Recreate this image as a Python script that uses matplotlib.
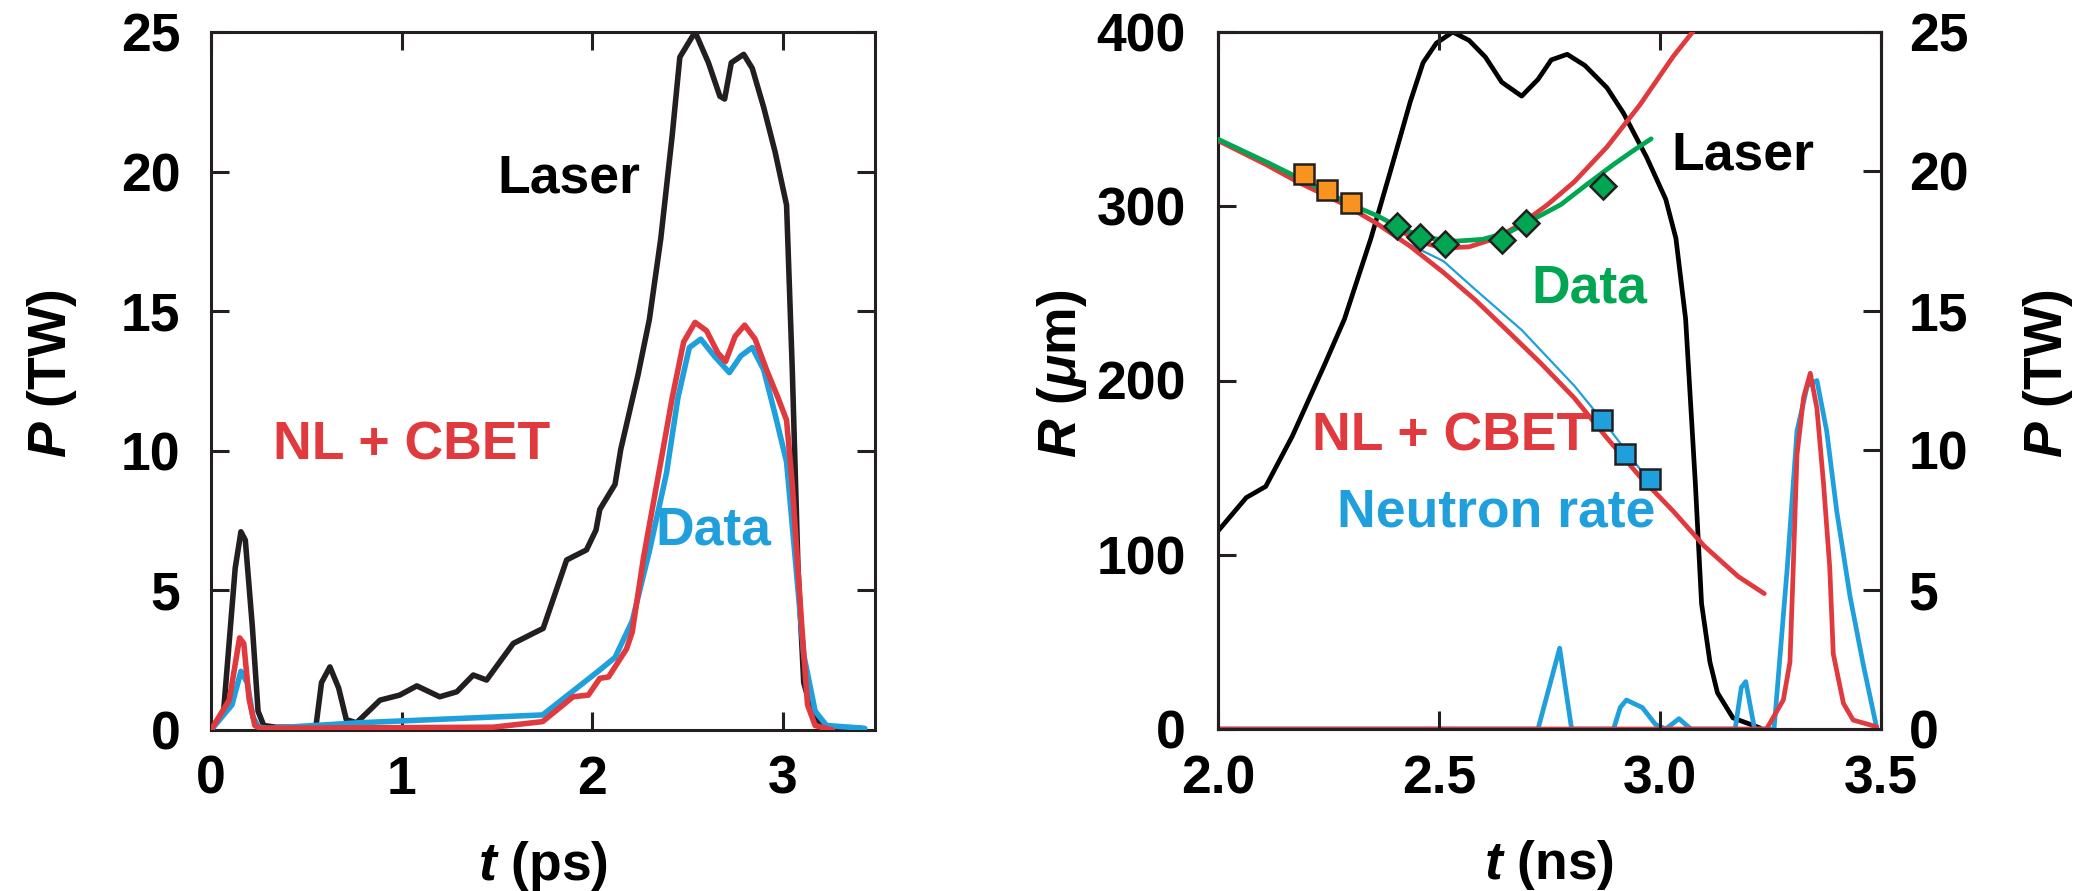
import matplotlib
matplotlib.use("Agg")
import matplotlib.pyplot as plt
import numpy as np

# ---------- data: left panel (t in ps, P in TW) ----------
laser_t = [0.0, 0.066, 0.127, 0.157, 0.18, 0.217, 0.247, 0.277, 0.34, 0.55, 0.58, 0.624, 0.67, 0.71,
           0.764, 0.887, 0.99, 1.08, 1.20, 1.29, 1.376, 1.446, 1.586, 1.69, 1.743, 1.866, 1.97, 2.02,
           2.04, 2.12, 2.15, 2.24, 2.30, 2.36, 2.42, 2.46, 2.54, 2.61, 2.67, 2.695, 2.73, 2.795, 2.84,
           2.90, 2.96, 3.02, 3.05, 3.08, 3.11, 3.16, 3.23, 3.41]
laser_p = [0.0, 0.67, 5.8, 7.1, 6.8, 3.7, 0.67, 0.16, 0.1, 0.1, 1.7, 2.26, 1.5, 0.37,
           0.26, 1.07, 1.25, 1.58, 1.19, 1.37, 1.97, 1.79, 3.1, 3.46, 3.64, 6.09, 6.45, 7.16,
           7.9, 8.8, 10.05, 12.7, 14.7, 17.6, 21.3, 24.1, 25.0, 23.9, 22.7, 22.6, 23.9, 24.2, 23.7,
           22.3, 20.7, 18.8, 12.9, 5.8, 1.7, 0.47, 0.1, 0.06]

cbet_t = [0.0, 0.096, 0.15, 0.172, 0.20, 0.23, 0.26, 1.48, 1.74, 1.90, 1.98, 2.04, 2.086, 2.18,
          2.21, 2.27, 2.36, 2.42, 2.48, 2.54, 2.60, 2.66, 2.70, 2.75, 2.80, 2.855, 2.915, 2.975,
          3.02, 3.05, 3.10, 3.13, 3.17, 3.26]
cbet_p = [0.0, 1.08, 3.3, 3.1, 1.1, 0.16, 0.06, 0.1, 0.3, 1.19, 1.25, 1.85, 1.9, 2.9,
          3.5, 6.2, 9.6, 11.9, 13.9, 14.6, 14.3, 13.5, 13.2, 14.1, 14.5, 14.0, 12.9, 11.9,
          11.1, 8.8, 3.7, 0.9, 0.16, 0.0]

data_t = [0.0, 0.11, 0.157, 0.19, 0.22, 0.25, 0.30, 0.78, 1.74, 2.04, 2.12, 2.21, 2.30, 2.39,
          2.45, 2.51, 2.57, 2.64, 2.72, 2.78, 2.84, 2.90, 2.96, 3.02, 3.07, 3.11, 3.17, 3.23,
          3.43]
data_p = [0.0, 0.9, 2.1, 1.7, 0.47, 0.1, 0.06, 0.26, 0.54, 2.15, 2.6, 3.9, 6.4, 9.2,
          11.9, 13.7, 14.0, 13.4, 12.8, 13.4, 13.7, 12.9, 11.3, 9.6, 5.8, 2.7, 0.67, 0.16,
          0.06]

# ---------- data: right panel (t in ns) ----------
laser2_t = [2.0, 2.064, 2.108, 2.168, 2.242, 2.286, 2.346, 2.39, 2.435, 2.464, 2.494, 2.531,
            2.568, 2.605, 2.642, 2.687, 2.724, 2.754, 2.79, 2.83, 2.88, 2.917, 2.97, 3.013,
            3.036, 3.058, 3.08, 3.094, 3.113, 3.13, 3.165, 3.226]
laser2_p = [7.1, 8.3, 8.7, 10.5, 13.1, 14.7, 17.6, 20.0, 22.5, 23.9, 24.6, 25.0,
            24.7, 24.1, 23.2, 22.7, 23.3, 24.0, 24.2, 23.8, 23.0, 22.1, 20.5, 19.0,
            17.6, 14.7, 8.8, 4.5, 2.4, 1.3, 0.4, 0.04]

# simulated neutron rate (NL + CBET), arbitrary units on the P scale
nsim_t = [2.0, 3.241, 3.279, 3.294, 3.30, 3.31, 3.325, 3.34, 3.355, 3.37, 3.384, 3.392, 3.415,
          3.437, 3.49]
nsim_p = [0.0, 0.0, 1.04, 2.4, 5.1, 9.85, 11.9, 12.76, 11.5, 8.8, 5.8, 2.7, 0.92,
          0.32, 0.08]

# measured neutron rate
ndat_t = [2.0, 2.724, 2.773, 2.80, 2.895, 2.91, 2.924, 2.96, 2.99, 3.013, 3.043, 3.058, 3.07,
          3.17, 3.184, 3.194, 3.206, 3.214, 3.258, 3.288, 3.31, 3.333, 3.355, 3.377, 3.40,
          3.43, 3.46, 3.49]
ndat_p = [0.0, 0.0, 2.9, 0.0, 0.0, 0.77, 1.04, 0.77, 0.16, 0.0, 0.37, 0.16, 0.0,
          0.0, 1.49, 1.7, 0.67, 0.0, 0.0, 5.8, 10.7, 12.3, 12.5, 10.7, 7.8,
          4.75, 2.3, 0.06]

# simulated shell radius (NL + CBET), lower branch
rsim_t = [2.0, 2.108, 2.18, 2.286, 2.36, 2.435, 2.51, 2.583, 2.657, 2.73, 2.806, 2.88, 2.954,
          3.03, 3.10, 3.177, 3.236]
rsim_r = [337.7, 324, 314, 301, 290, 277, 262, 246, 228, 210, 190, 167, 145,
          125, 105, 87.5, 77.7]

# simulated radius, upper branch
rup_t = [2.42, 2.45, 2.51, 2.568, 2.628, 2.687, 2.746, 2.806, 2.88, 2.954, 3.03, 3.08]
rup_r = [285, 280, 276, 276.7, 281.6, 290, 301, 314, 334, 358, 386, 402]

# thin blue radius line
rblu_t = [2.405, 2.51, 2.583, 2.687, 2.806, 2.88, 2.954, 2.99]
rblu_r = [281.6, 268.5, 252, 229, 197, 174, 149.4, 138]

# fit through the data
rfit_t = [2.0, 2.108, 2.212, 2.30, 2.36, 2.42, 2.48, 2.54, 2.598, 2.657, 2.717, 2.776, 2.835,
          2.895, 2.94, 2.98]
rfit_r = [338.5, 325.6, 312.6, 301, 294.6, 286.5, 281.6, 280, 281, 284.9, 293, 301, 312.6,
          324, 332, 338.7]

orange_t = [2.194, 2.246, 2.30]
orange_r = [318.5, 309.3, 301.8]
green_t = [2.405, 2.457, 2.513, 2.642, 2.697, 2.872]
green_r = [288.8, 282.3, 278.3, 280.6, 290.4, 311.6]
blue_t = [2.869, 2.921, 2.978]
blue_r = [177.2, 157.6, 143.6]

# ---------- style ----------
BLACK = "#231f20"
RED = "#e0393e"
BLUE = "#1f9fdb"
GREEN = "#00a651"
ORANGE = "#f7931e"
FS = 38.5
LW = 4.0

plt.rcParams["font.family"] = ["Liberation Sans", "DejaVu Sans"]
plt.rcParams["font.weight"] = "bold"
plt.rcParams["mathtext.fontset"] = "custom"
plt.rcParams["mathtext.it"] = "Liberation Sans:italic:bold"
plt.rcParams["mathtext.rm"] = "Liberation Sans:bold"
plt.rcParams["mathtext.bf"] = "Liberation Sans:bold"


def style_axes(ax):
    for s in ax.spines.values():
        s.set_color(BLACK)
        s.set_linewidth(2.2)
    ax.tick_params(direction="in", length=13, width=2.2, color=BLACK,
                   labelsize=FS, labelcolor="black")


fig = plt.figure(figsize=(20.78, 8.91), dpi=100)

# ---------- left panel ----------
ax1 = fig.add_axes([211 / 2078, 161 / 891, 664 / 2078, 698 / 891])
kw = dict(lw=LW, solid_joinstyle="round", solid_capstyle="round")
ax1.plot(laser_t, laser_p, color=BLACK, zorder=2, **kw)
ax1.plot(data_t, data_p, color=BLUE, zorder=3, **kw)
ax1.plot(cbet_t, cbet_p, color=RED, zorder=4, **kw)
ax1.set_xlim(0, 3.484)
ax1.set_ylim(0, 25)
ax1.set_xticks([0, 1, 2, 3])
ax1.set_yticks([0, 5, 10, 15, 20, 25])
style_axes(ax1)
ax1.tick_params(axis="x", top=True, pad=18)
ax1.tick_params(axis="y", right=True, pad=22)
ax1.set_xlabel(r"$t$ (ps)", fontsize=FS, fontweight="bold")
ax1.set_ylabel(r"$P$ (TW)", fontsize=FS, fontweight="bold")
ax1.xaxis.label.set_va("center")
ax1.yaxis.label.set_va("center")
ax1.xaxis.set_label_coords(0.5, -0.195)
ax1.yaxis.set_label_coords(-0.239, 0.51)

ax1.text(1.50, 19.75, "Laser", color="black", fontsize=FS, ha="left", va="center")
ax1.text(0.325, 10.2, "NL + CBET", color=RED, fontsize=FS, ha="left", va="center")
ax1.text(2.33, 7.15, "Data", color=BLUE, fontsize=FS, ha="left", va="center")

# ---------- right panel ----------
ax2 = fig.add_axes([1218 / 2078, 162 / 891, 663 / 2078, 697 / 891])
ax3 = ax2.twinx()
ax2.set_zorder(ax3.get_zorder() + 1)
ax2.patch.set_visible(False)

kw2 = dict(lw=3.4, solid_joinstyle="round", solid_capstyle="round")
# power axis: laser and neutron rates
ax3.plot(laser2_t, laser2_p, color="black", **kw2)
ax3.plot(ndat_t, ndat_p, color=BLUE, **kw2)
ax3.plot(nsim_t, nsim_p, color=RED, **kw2)
ax3.set_ylim(0, 25)
ax3.set_yticks([0, 5, 10, 15, 20, 25])

# radius axis
ax2.plot(rblu_t, rblu_r, color=BLUE, lw=1.6, zorder=2)
ax2.plot(rsim_t, rsim_r, color=RED, zorder=3, **kw2)
ax2.plot(rup_t, rup_r, color=RED, zorder=3, **kw2)
ax2.plot(rfit_t, rfit_r, color=GREEN, zorder=4, **kw2)
ax2.plot(orange_t, orange_r, "s", color=ORANGE, ms=15, mec=BLACK, mew=1.8, zorder=5)
ax2.plot(green_t, green_r, "D", color=GREEN, ms=13.5, mec=BLACK, mew=1.8, zorder=5)
ax2.plot(blue_t, blue_r, "s", color=BLUE, ms=15, mec=BLACK, mew=1.8, zorder=5)
ax2.set_xlim(2.0, 3.5)
ax2.set_ylim(0, 400)
ax2.set_xticks([2.0, 2.5, 3.0, 3.5])
ax2.set_xticklabels(["2.0", "2.5", "3.0", "3.5"])
ax2.set_yticks([0, 100, 200, 300, 400])

style_axes(ax2)
style_axes(ax3)
ax2.tick_params(axis="x", top=True, pad=18)
ax2.tick_params(axis="y", left=True, right=False, pad=23)
ax3.tick_params(axis="y", left=False, right=True, pad=20)

ax2.set_xlabel(r"$t$ (ns)", fontsize=FS, fontweight="bold")
ax2.set_ylabel(r"$R$ ($\mu$m)", fontsize=FS, fontweight="bold")
ax3.set_ylabel(r"$P$ (TW)", fontsize=FS, fontweight="bold")
for lab in (ax2.xaxis.label, ax2.yaxis.label, ax3.yaxis.label):
    lab.set_va("center")
ax2.xaxis.set_label_coords(0.5, -0.195)
ax2.yaxis.set_label_coords(-0.235, 0.51)
ax3.yaxis.set_label_coords(1.252, 0.51)

ax2.text(3.025, 329, "Laser", color="black", fontsize=FS, ha="left", va="center")
ax2.text(2.709, 253, "Data", color=GREEN, fontsize=FS, ha="left", va="center")
ax2.text(2.212, 168, "NL + CBET", color=RED, fontsize=FS, ha="left", va="center")
ax2.text(2.27, 124, "Neutron rate", color=BLUE, fontsize=FS, ha="left", va="center")

fig.savefig("out.png", dpi=100)
